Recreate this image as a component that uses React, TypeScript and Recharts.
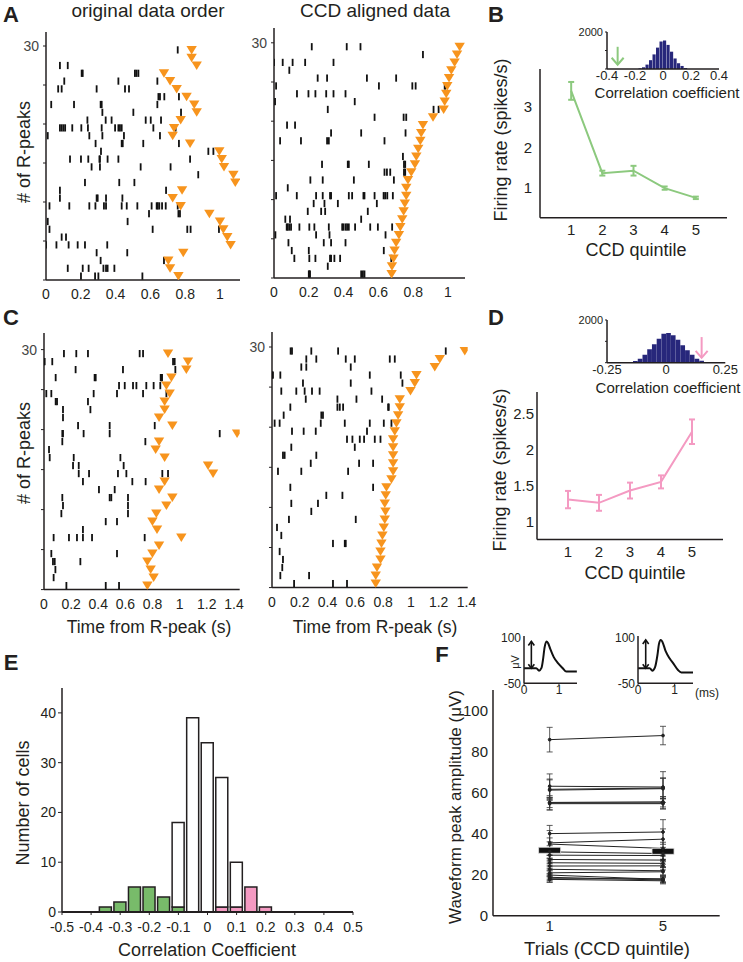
import React from 'react';
import {
  ScatterChart, Scatter, ComposedChart, LineChart, Line, BarChart, Bar, XAxis, YAxis,
  ErrorBar, ReferenceLine,
} from 'recharts';

// ---------- raster data (spike times in s, one array per trial, top row first) ----------
const aOrigSpikes: number[][] = [
  [0.757], [], [0.08, 0.125], [0.205, 0.211, 0.511, 0.52, 0.531], [0.105, 0.416, 0.64],
  [0.07, 0.09, 0.291, 0.454, 0.477], [0.646, 0.655, 0.68, 0.764], [0.03, 0.161, 0.314, 0.32, 0.64],
  [0.324, 0.502, 0.776], [0.238, 0.343, 0.377, 0.573, 0.602, 0.661],
  [0.08, 0.09, 0.1, 0.11, 0.151, 0.203, 0.241, 0.32, 0.397, 0.416, 0.425, 0.435, 0.617, 0.745],
  [0.01, 0.249, 0.324, 0.448, 0.655], [0.285, 0.435, 0.441, 0.559, 0.764], [0.316, 0.933, 0.962],
  [0.138, 0.201, 0.243, 0.307, 0.31, 0.354, 0.416, 0.828], [0.262, 0.31, 0.544, 0.716], [0.875],
  [0.224, 0.421, 0.508], [0.08, 0.69], [0.08, 0.291, 0.297, 0.345, 0.439],
  [0.02, 0.134, 0.249, 0.284, 0.333, 0.345, 0.435, 0.464, 0.525, 0.607, 0.636, 0.642, 0.651, 0.667, 0.688, 0.757],
  [0.592, 0.761, 0.77], [0.01, 0.469], [0.02, 0.613, 0.812, 0.831, 0.994], [0.09, 0.115],
  [0.0, 0.06, 0.13, 0.182, 0.224, 0.352], [0.291, 0.467], [0.314, 0.678],
  [0.125, 0.211, 0.245, 0.33, 0.345, 0.354, 0.393], [0.201, 0.282, 0.301, 0.554],
];
const aOrigPeaks = [
  0.837, 0.837, 0.866, 0.678, 0.713, 0.751, 0.808, 0.852, 0.866, 0.774, 0.736, 0.728, 0.828, 0.996, 1.01,
  1.023, 1.077, 1.088, 0.782, 0.728, 0.774, 0.939, 1.0, 1.019, 1.042, 1.061, 0.789, 0.703, 0.713, 0.761,
];

const aCcdSpikes: number[][] = [
  [0.217, 0.418, 0.497], [0.856], [0, 0.05, 0.107, 0.179, 0.342], [0.088], [0.251, 0.305, 0.534, 0.702],
  [0.012, 0.603, 0.795, 0.814, 0.981, 0.985], [0.132, 0.198, 0.238, 0.3, 0.342, 0.411], [0.006, 0.464],
  [0.309, 0.917, 0.946], [0.578, 0.745, 0.76], [0.075, 0.121], [0.328, 0.501, 0.756],
  [0.035, 0.155, 0.305, 0.315, 0.635], [], [0.741], [0.276, 0.424, 0.43, 0.545, 0.747, 0.754],
  [0.635, 0.649, 0.668, 0.747, 0.754], [0.209, 0.28, 0.459, 0.689], [0.079],
  [0.012, 0.131, 0.242, 0.28, 0.322, 0.328, 0.43, 0.449, 0.514, 0.52, 0.578, 0.63, 0.639, 0.651, 0.683],
  [0.228, 0.29, 0.367, 0.591], [0.194, 0.271, 0.294, 0.539], [0.065, 0.092, 0.501],
  [0.073, 0.079, 0.088, 0.098, 0.146, 0.203, 0.232, 0.315, 0.392, 0.399, 0.411, 0.42, 0.43, 0.466, 0.553, 0.597, 0.679],
  [0.008, 0.242, 0.319, 0.641], [0.083, 0.286, 0.328, 0.411], [0.102, 0.2, 0.631],
  [0.117, 0.203, 0.238, 0.322, 0.328, 0.347, 0.38, 0.674], [0.309], [0.2, 0.203, 0.207, 0.501, 0.511, 0.52],
];
const aCcdPeaks = [
  1.067, 1.052, 1.038, 1.019, 1.006, 0.996, 0.99, 0.981, 0.975, 0.914, 0.856, 0.846, 0.841, 0.829, 0.818,
  0.81, 0.789, 0.77, 0.76, 0.76, 0.752, 0.745, 0.737, 0.726, 0.718, 0.702, 0.693, 0.687, 0.678, 0.676,
];

const cOrigSpikes: number[][] = [
  [0.147, 0.238, 0.324, 0.705, 0.73], [0.0, 0.005, 0.061, 0.951, 0.963], [0.233, 0.582, 0.968],
  [0.086, 0.373, 0.381, 0.86, 0.865, 0.87], [0.553, 0.595, 0.656, 0.681, 0.754, 0.808, 0.857],
  [0.017, 0.054, 0.366, 0.538, 0.73, 0.902], [0.086, 0.096, 0.324], [0.14, 0.342], [0.14],
  [0.251, 0.484, 0.816], [0.135, 0.14, 0.292, 0.484, 1.295], [0.135, 0.747], [0.037],
  [0.042, 0.219, 0.563], [0.214, 0.256, 0.587], [0.256, 0.332, 0.545, 0.607, 0.872, 0.914],
  [0.287, 0.651, 0.749], [0.405, 0.521], [0.135, 0.484, 0.496, 0.619], [0.14, 0.619], [0.128, 0.619],
  [0.455, 0.538], [0.287], [0.071, 0.184, 0.243, 0.287, 0.354, 0.742], [], [0.054, 0.538],
  [0.066, 0.079, 0.268], [0.084], [0.071], [0.165, 0.455, 0.553],
];
const cOrigPeaks = [
  0.914, 1.061, 1.049, 0.939, 0.902, 0.926, 0.889, 0.889, 0.848, 0.946, 1.423, 0.848, 0.823, 0.889, 1.209,
  1.246, 0.889, 0.848, 0.946, 0.902, 0.828, 0.799, 0.833, 1.012, 0.848, 0.799, 0.762, 0.786, 0.808, 0.762,
];

const cCcdSpikes: number[][] = [
  [0.134, 0.144, 0.283, 0.476, 1.251], [0.247, 0.319, 0.531, 0.596, 0.848, 0.884], [0.211, 0.247, 0.567],
  [0, 0.007, 0.06, 0.704, 0.927], [0.223, 0.567, 0.939], [0.067, 0.175, 0.235, 0.288, 0.343, 0.716],
  [0.243, 0.471, 0.608, 0.793], [0.132, 0.471, 0.488, 0.512, 0.836, 0.841], [0.084, 0.355, 0.367],
  [0.019, 0.055, 0.351, 0.524, 0.704, 0.805, 0.86], [0.144, 0.228, 0.315, 0.684],
  [0.54, 0.579, 0.632, 0.663, 0.74, 0.781], [0.139, 0.596], [0.079, 0.091, 0.319], [0.279, 0.627, 0.728],
  [0.043, 0.211, 0.548], [], [0.132, 0.728], [0.391, 0.507], [0.139, 0.331], [0.283], [0.122, 0.603],
  [0.036], [0.067], [0.439, 0.524, 0.531], [0.055], [0.079], [0.074], [0.06, 0.267], [0.159, 0.439, 0.54],
];
const cCcdPeaks = [
  1.388, 1.208, 1.172, 1.04, 1.028, 0.997, 0.92, 0.92, 0.908, 0.896, 0.884, 0.872, 0.872, 0.872, 0.872,
  0.872, 0.86, 0.824, 0.819, 0.812, 0.817, 0.812, 0.805, 0.795, 0.788, 0.781, 0.781, 0.756, 0.747, 0.747,
];

// ---------- firing rate by CCD quintile ----------
const quintiles = [1, 2, 3, 4, 5];
const bRate = [3.4, 1.37, 1.43, 1.0, 0.76];
const bSem = [0.22, 0.06, 0.12, 0.04, 0.03];
const dRate = [1.31, 1.265, 1.435, 1.555, 2.25];
const dSem = [0.12, 0.11, 0.11, 0.09, 0.17];

// ---------- shuffled correlation distributions (insets) ----------
const bShufCenters = [-0.1625, -0.1375, -0.1125, -0.0875, -0.0625, -0.0375, -0.0125, 0.0125, 0.0375, 0.0625, 0.0875, 0.1125, 0.1375, 0.1625];
const bShufCounts = [37, 92, 238, 477, 789, 1156, 1486, 1541, 1303, 936, 569, 312, 165, 55];
const bObserved = -0.324;
const dShufCenters = [-0.15, -0.13, -0.11, -0.09, -0.07, -0.05, -0.03, -0.01, 0.01, 0.03, 0.05, 0.07, 0.09, 0.11, 0.13, 0.15, 0.17];
const dShufCounts = [31, 78, 188, 375, 625, 859, 1125, 1359, 1391, 1281, 1078, 813, 578, 375, 188, 94, 31];
const dObserved = 0.15;

// ---------- E: histogram of correlation coefficients ----------
const eCenters = [-0.35, -0.3, -0.25, -0.2, -0.15, -0.1, -0.05, 0, 0.05, 0.1, 0.15, 0.2];
const eNegative = [1, 2, 5, 5, 3, 1, 0, 0, 0, 0, 0, 0];
const ePositive = [0, 0, 0, 0, 0, 0, 0, 0, 1, 1, 5, 1];
const eOther = [0, 0, 0, 0, 0, 17, 39, 34, 26, 9, 0, 0];
const eTicks = [-0.5, -0.4, -0.3, -0.2, -0.1, 0, 0.1, 0.2, 0.3, 0.4, 0.5];

// ---------- F: waveform peak amplitude per cell ----------
const fQ1 = [85.8, 63.1, 61.6, 61.2, 55.0, 54.6, 55.2, 40.0, 35.5, 34.9, 31.1, 29.5, 27.4, 25.8, 24.2, 22.6, 20.9, 19.8, 18.7, 17.7, 18.0];
const fQ5 = [87.8, 62.7, 62.2, 61.9, 55.0, 54.6, 55.5, 40.8, 37.3, 32.8, 30.3, 29.3, 27.1, 25.5, 24.3, 21.9, 21.4, 17.7, 17.4, 17.0, 18.0];
const fE1 = [6, 6, 5, 5, 3.5, 3, 2.5, 4, 6, 3, 3, 2.5, 2, 2, 2, 2, 2, 2, 1.5, 1.5, 1.5];
const fE5 = [4.5, 7.5, 5, 5, 3, 2.5, 2.5, 6, 5, 3, 3, 2.5, 2, 2, 2, 2, 2, 1.5, 1.5, 1.5, 1.5];
const fMean = [31.9, 31.4];
const fTrials = [1, 5];

const waveQ1T = [0, 0.16, 0.35, 0.43, 0.5, 0.54, 0.59, 0.64, 0.69, 0.75, 0.85, 0.97, 1.1, 1.21, 1.51];
const waveQ1V = [0, 0, 0, -8, 1, 26, 70, 89, 83, 64, 37, 17, 1, -11, -11];
const waveQ5T = [0, 0.32, 0.39, 0.46, 0.53, 0.57, 0.62, 0.66, 0.75, 0.86, 0.98, 1.09, 1.18, 1.5];
const waveQ5V = [0, 0, -8, 2, 44, 80, 94, 89, 58, 33, 13, -6, -14, -14];

const ORANGE = '#f7941d';
const GREEN = '#8cc97e';
const GREEN_BAR = '#78bb6a';
const PINK = '#f49ac2';
const NAVY = '#27277b';
const INK = '#231f20';
const FONT = '"Liberation Sans", Arial, Helvetica, sans-serif';

// place a chart so that its plot area spans (x0,y0)-(x1,y1) on the page
function frame(x0: number, y0: number, x1: number, y1: number, padL: number, padB: number, padT = 6, padR = 8) {
  return {
    style: { position: 'absolute' as const, left: x0 - padL, top: y0 - padT },
    w: x1 - x0 + padL + padR,
    h: y1 - y0 + padT + padB,
    m: { top: padT, right: padR, left: 0, bottom: 0 },
    yw: padL,
    xh: padB,
  };
}

const axisLine = { stroke: INK, strokeWidth: 1.5 };

const Spike = (p: any) => <rect x={p.cx - 0.9} y={p.cy - 3.6} width={1.8} height={7.2} fill="#111" />;
const Tri = (p: any) => (
  <path d={`M${p.cx - 5.2},${p.cy - 4}L${p.cx + 5.2},${p.cy - 4}L${p.cx},${p.cy + 4.5}Z`} fill={ORANGE} />
);

function Raster({ spikes, peaks, box, perSec, perRow, ticks }: any) {
  const [x0, y0, x1, y1] = box;
  const n = spikes.length;
  const pts = spikes.flatMap((row: number[], i: number) => row.map((t) => ({ t, row: n - i - 0.5 })));
  const tri = peaks.map((t: number, i: number) => ({ t, row: n - i - 0.5 }));
  const g = frame(x0, y0, x1, y1, 40, 30, 4, 10);
  return (
    <div style={g.style}>
      <ScatterChart width={g.w} height={g.h} margin={g.m}>
        <XAxis type="number" dataKey="t" domain={[0, (x1 - x0) / perSec]} allowDataOverflow ticks={ticks}
          height={g.xh} axisLine={axisLine} tickLine={false} tickSize={3} tickMargin={6}
          tick={{ fontSize: 14, fill: INK }} interval={0} />
        <YAxis type="number" dataKey="row" domain={[0, (y1 - y0) / perRow]} allowDataOverflow
          ticks={[0, 5, 10, 15, 20, 25, 30]} tickFormatter={(v: number) => (v === 30 ? '30' : '')}
          width={g.yw} axisLine={axisLine} tickLine={{ stroke: INK }} tickSize={3} tickMargin={4}
          tick={{ fontSize: 14, fill: '#444' }} interval={0} />
        <Scatter data={pts} shape={Spike} isAnimationActive={false} />
        <Scatter data={tri} shape={Tri} isAnimationActive={false} />
      </ScatterChart>
    </div>
  );
}

function RateChart({ rate, sem, color, box, yDomain, yTicks, yMargin }: any) {
  const [x0, y0, x1, y1] = box;
  const data = quintiles.map((q, i) => ({ q, r: rate[i], e: sem[i] }));
  const g = frame(x0, y0, x1, y1, 36, 28, 6, 10);
  return (
    <div style={g.style}>
      <LineChart width={g.w} height={g.h} margin={g.m} data={data}>
        <XAxis type="number" dataKey="q" domain={[0, 6]} ticks={quintiles} height={g.xh}
          axisLine={axisLine} tickLine={false} tickSize={0} tickMargin={7}
          tick={{ fontSize: 15, fill: INK }} interval={0} />
        <YAxis type="number" domain={yDomain} allowDataOverflow ticks={yTicks} width={g.yw}
          axisLine={axisLine} tickLine={false} tickSize={0} tickMargin={yMargin}
          tick={{ fontSize: 15, fill: INK }} interval={0} />
        <Line dataKey="r" stroke={color} strokeWidth={2} dot={false} isAnimationActive={false}>
          <ErrorBar dataKey="e" width={3} stroke={color} strokeWidth={2} direction="y" />
        </Line>
      </LineChart>
    </div>
  );
}

const arrowDown = (color: string) => (p: any) => (
  <g stroke={color} strokeWidth={2} fill="none">
    <line x1={p.x1} y1={p.y1} x2={p.x2} y2={p.y2} />
    <path d={`M${p.x2 - 6},${p.y2 - 7}L${p.x2},${p.y2}L${p.x2 + 6},${p.y2 - 7}`} />
  </g>
);

function ShuffleInset({ centers, counts, binPx, box, xDomain, xTicks, xFmt, observed, color }: any) {
  const [x0, y0, x1, y1] = box;
  const data = centers.map((c: number, i: number) => ({ c, n: counts[i] }));
  const g = frame(x0, y0, x1, y1, 36, 18, 6, 20);
  return (
    <div style={g.style}>
      <BarChart width={g.w} height={g.h} margin={g.m} data={data}>
        <XAxis type="number" dataKey="c" domain={xDomain} allowDataOverflow ticks={xTicks} tickFormatter={xFmt}
          height={g.xh} axisLine={axisLine} tickLine={false} tickSize={1} tickMargin={1}
          tick={{ fontSize: 13, fill: INK }} interval={0} />
        <YAxis type="number" domain={[0, 2000]} ticks={[0, 1000, 2000]}
          tickFormatter={(v: number) => (v === 2000 ? '2000' : '')} width={g.yw}
          axisLine={axisLine} tickLine={{ stroke: INK }} tickSize={2} tickMargin={2}
          tick={{ fontSize: 11, fill: INK }} interval={0} />
        <Bar dataKey="n" fill={NAVY} barSize={binPx} isAnimationActive={false} />
        <ReferenceLine segment={[{ x: observed, y: 1200 }, { x: observed, y: 230 }]} shape={arrowDown(color)} />
      </BarChart>
    </div>
  );
}

// double-headed arrow: first point is the top (peak), second the baseline
const dblArrow = (p: any) => (
  <g stroke="#111" strokeWidth={1.6} fill="none">
    <line x1={p.x1} y1={p.y1} x2={p.x2} y2={p.y2} />
    <path d={`M${p.x1 - 3},${p.y1 + 4}L${p.x1},${p.y1}L${p.x1 + 3},${p.y1 + 4}`} />
    <path d={`M${p.x2 - 3},${p.y2 - 4}L${p.x2},${p.y2}L${p.x2 + 3},${p.y2 - 4}`} />
  </g>
);

function WaveInset({ ts, vs, box, perMs }: any) {
  const [x0, y0, x1, y1] = box;
  const data = ts.map((t: number, i: number) => ({ t, v: vs[i] }));
  const peak = Math.max(...vs);
  const g = frame(x0, y0, x1, y1, 30, 16, 6, 6);
  return (
    <div style={g.style}>
      <LineChart width={g.w} height={g.h} margin={g.m} data={data}>
        <XAxis type="number" dataKey="t" domain={[0, (x1 - x0) / perMs]} allowDataOverflow
          ticks={[0, 1]} height={g.xh} axisLine={axisLine} tickLine={{ stroke: INK }} tickSize={2} tickMargin={0}
          tick={{ fontSize: 12, fill: INK }} interval={0} />
        <YAxis type="number" domain={[-50, 107]} allowDataOverflow ticks={[-50, 100]} width={g.yw}
          axisLine={axisLine} tickLine={false} tickSize={0} tickMargin={3}
          tick={{ fontSize: 12, fill: INK }} interval={0} />
        <Line dataKey="v" stroke="#111" strokeWidth={2} dot={false} type="monotone" isAnimationActive={false} />
        <ReferenceLine segment={[{ x: 0.21, y: peak }, { x: 0.21, y: 0 }]} shape={dblArrow} />
      </LineChart>
    </div>
  );
}

const MeanBar = (p: any) => (
  <rect x={p.cx - 11} y={p.cy - 3} width={22} height={6} fill="#111" stroke="#ddd" strokeWidth={0.8} />
);

function T({ x, y, size = 18, rot = 0, bold = false, children }: any) {
  return (
    <div style={{
      position: 'absolute', left: x, top: y, transform: `translate(-50%,-50%) rotate(${rot}deg)`,
      fontSize: size, fontWeight: bold ? 700 : 400, whiteSpace: 'nowrap', lineHeight: 1, color: INK,
    }}>{children}</div>
  );
}

export default function App() {
  const eData = eCenters.map((c, i) => ({
    c, neg: eNegative[i] || null, pos: ePositive[i] || null, other: eOther[i] || null,
  }));
  const fData = fTrials.map((x, j) => {
    const row: any = { x, mean: fMean[j] };
    fQ1.forEach((_, i) => {
      row['c' + i] = j === 0 ? fQ1[i] : fQ5[i];
      row['e' + i] = j === 0 ? fE1[i] : fE5[i];
    });
    return row;
  });

  const eG = frame(62.3, 688.3, 353.3, 912.3, 40, 30, 6, 10);
  const fG = frame(493.3, 690, 720, 915.7, 40, 30, 6, 10);

  return (
    <div style={{ position: 'absolute', left: 0, top: 0, width: 743, height: 962, background: '#fff', fontFamily: FONT, overflow: 'hidden' }}>
      {/* A */}
      <Raster spikes={aOrigSpikes} peaks={aOrigPeaks} box={[46, 32, 240, 280]} perSec={174} perRow={7.8} ticks={[0, 0.2, 0.4, 0.6, 0.8, 1]} />
      <Raster spikes={aCcdSpikes} peaks={aCcdPeaks} box={[274, 28, 465, 278]} perSec={174} perRow={7.84} ticks={[0, 0.2, 0.4, 0.6, 0.8, 1]} />
      {/* C */}
      <Raster spikes={cOrigSpikes} peaks={cOrigPeaks} box={[44.3, 332.7, 240, 589.3]} perSec={135.7} perRow={8} ticks={[0, 0.2, 0.4, 0.6, 0.8, 1, 1.2, 1.4]} />
      <Raster spikes={cCcdSpikes} peaks={cCcdPeaks} box={[272.3, 331.7, 468, 587.3]} perSec={138.9} perRow={8.02} ticks={[0, 0.2, 0.4, 0.6, 0.8, 1, 1.2, 1.4]} />

      {/* B */}
      <RateChart rate={bRate} sem={bSem} color={GREEN} box={[540, 69.3, 727, 218]} yDomain={[0.27, 3.94]} yTicks={[1, 2, 3]} yMargin={8} />
      <ShuffleInset centers={bShufCenters} counts={bShufCounts} binPx={3.5} box={[607.3, 32.3, 719.3, 69.3]}
        xDomain={[-0.4, 0.4]} xTicks={[-0.4, -0.2, 0, 0.2, 0.4]} xFmt={(v: number) => String(v)} observed={bObserved} color={GREEN} />
      {/* D */}
      <RateChart rate={dRate} sem={dSem} color={PINK} box={[536.7, 391.7, 722.7, 539.3]} yDomain={[0.756, 2.8]} yTicks={[1, 1.5, 2, 2.5]} yMargin={3} />
      <ShuffleInset centers={dShufCenters} counts={dShufCounts} binPx={4.7} box={[606.7, 320, 725, 362.7]}
        xDomain={[-0.25, 0.25]} xTicks={[-0.25, 0, 0.25]} xFmt={(v: number) => String(v)} observed={dObserved} color={PINK} />

      {/* E */}
      <div style={eG.style}>
        <BarChart width={eG.w} height={eG.h} margin={eG.m} data={eData}>
          <XAxis type="number" dataKey="c" domain={[-0.5, 0.5]} allowDataOverflow ticks={eTicks} height={eG.xh}
            axisLine={{ stroke: INK, strokeWidth: 2 }} tickLine={{ stroke: INK }} tickSize={3} tickMargin={7}
            tick={{ fontSize: 14, fill: INK }} interval={0} />
          <YAxis type="number" domain={[0, 45]} allowDataOverflow ticks={[0, 10, 20, 30, 40]} width={eG.yw}
            axisLine={{ stroke: INK, strokeWidth: 1.5 }} tickLine={{ stroke: INK }} tickSize={4} tickMargin={2}
            tick={{ fontSize: 14, fill: INK }} interval={0} />
          <Bar dataKey="neg" stackId="s" fill={GREEN_BAR} stroke={INK} strokeWidth={1.5} barSize={12} isAnimationActive={false} />
          <Bar dataKey="pos" stackId="s" fill={PINK} stroke={INK} strokeWidth={1.5} barSize={12} isAnimationActive={false} />
          <Bar dataKey="other" stackId="s" fill="#fff" stroke={INK} strokeWidth={1.5} barSize={12} isAnimationActive={false} />
        </BarChart>
      </div>

      {/* F */}
      <div style={fG.style}>
        <ComposedChart width={fG.w} height={fG.h} margin={fG.m} data={fData}>
          <XAxis type="number" dataKey="x" domain={[-1, 7]} ticks={fTrials} height={fG.xh}
            axisLine={axisLine} tickLine={false} tickSize={0} tickMargin={5}
            tick={{ fontSize: 15, fill: INK }} interval={0} />
          <YAxis type="number" domain={[0, 110]} allowDataOverflow ticks={[0, 20, 40, 60, 80, 100]} width={fG.yw}
            axisLine={axisLine} tickLine={false} tickSize={0} tickMargin={5}
            tick={{ fontSize: 15, fill: INK }} interval={0} />
          {fQ1.map((_, i) => (
            <Line key={i} dataKey={'c' + i} stroke="#222" strokeWidth={1} isAnimationActive={false}
              dot={{ r: 1.4, fill: '#222', stroke: '#222' }}>
              <ErrorBar dataKey={'e' + i} width={3} stroke="#333" strokeWidth={0.8} direction="y" />
            </Line>
          ))}
          <Scatter dataKey="mean" shape={MeanBar} isAnimationActive={false} />
        </ComposedChart>
      </div>
      <WaveInset ts={waveQ1T} vs={waveQ1V} box={[524.3, 636, 577.3, 683.3]} perMs={35} />
      <WaveInset ts={waveQ5T} vs={waveQ5V} box={[638.3, 636, 693.3, 683.3]} perMs={36.7} />

      {/* text */}
      <T x={11} y={15} size={22} bold>A</T>
      <T x={148} y={10} size={19}>original data order</T>
      <T x={375} y={10} size={19}>CCD aligned data</T>
      <T x={24} y={152} size={18} rot={-90}># of R-peaks</T>
      <T x={496} y={15} size={22} bold>B</T>
      <T x={667} y={92} size={15}>Correlation coefficient</T>
      <T x={501} y={140} size={18} rot={-90}>Firing rate (spikes/s)</T>
      <T x={636} y={250} size={18}>CCD quintile</T>

      <T x={11} y={318} size={22} bold>C</T>
      <T x={24} y={453} size={18} rot={-90}># of R-peaks</T>
      <T x={149} y={628} size={17.5}>Time from R-peak (s)</T>
      <T x={375} y={628} size={17.5}>Time from R-peak (s)</T>
      <T x={496} y={318} size={22} bold>D</T>
      <T x={668} y={387} size={15}>Correlation coefficient</T>
      <T x={500} y={470} size={18} rot={-90}>Firing rate (spikes/s)</T>
      <T x={635} y={573} size={18}>CCD quintile</T>

      <T x={11} y={663} size={22} bold>E</T>
      <T x={23} y={803} size={18} rot={-90}>Number of cells</T>
      <T x={207} y={950} size={18}>Correlation Coefficient</T>

      <T x={442} y={655} size={22} bold>F</T>
      <T x={455} y={807} size={17} rot={-90}>Waveform peak amplitude (μV)</T>
      <T x={607} y={949} size={18.5}>Trials (CCD quintile)</T>
      <T x={515} y={662} size={11} rot={-90}>μV</T>
      <T x={707} y={693} size={12}>(ms)</T>
    </div>
  );
}
